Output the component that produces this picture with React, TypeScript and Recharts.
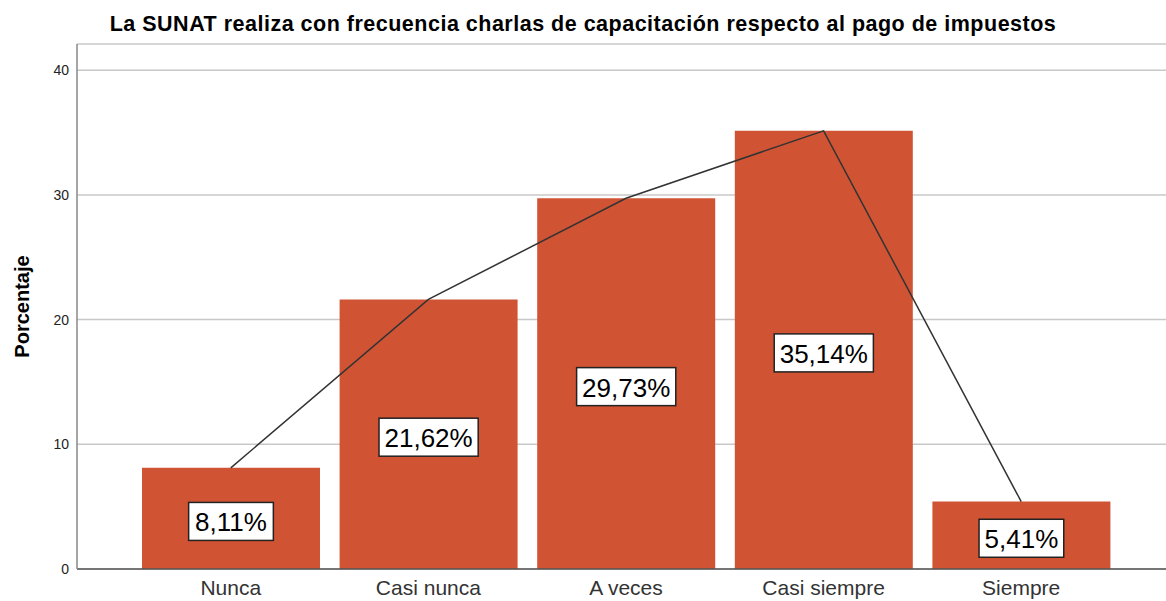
import * as React from "react";
import {
  Bar,
  CartesianGrid,
  ComposedChart,
  LabelList,
  Line,
  XAxis,
  YAxis,
} from "recharts";

const categories = ["Nunca", "Casi nunca", "A veces", "Casi siempre", "Siempre"];
const percentages = [8.11, 21.62, 29.73, 35.14, 5.41];
const yTicks = [0, 10, 20, 30, 40];

const TITLE = "La SUNAT realiza con frecuencia charlas de capacitación respecto al pago de impuestos";
const FONT = "'Liberation Sans', Arial, sans-serif";
const BAR_COLOR = "#D05434";

const data = categories.map((name, i) => ({ name, pct: percentages[i] }));

const fmt = (v: number) => v.toFixed(2).replace(".", ",") + "%";

// rough Arial widths, used to size the white label box
function textWidth(s: string, size: number) {
  let w = 0;
  for (const ch of s) {
    if (ch === ",") w += 0.278;
    else if (ch === "%") w += 0.889;
    else w += 0.556;
  }
  return w * size;
}

function BoxLabel(props: any) {
  const { x, y, width, height, value } = props;
  const text = fmt(Number(value));
  const size = 26;
  const w = textWidth(text, size) + 11;
  const h = 38;
  const cx = Number(x) + Number(width) / 2;
  const cy = Number(y) + Number(height) / 2 + 3;
  return (
    <g>
      <rect
        x={cx - w / 2}
        y={cy - h / 2}
        width={w}
        height={h}
        fill="#FFFFFF"
        stroke="#222"
        strokeWidth={1.5}
      />
      <text
        x={cx}
        y={cy + 1}
        textAnchor="middle"
        dominantBaseline="central"
        fontSize={size}
        fontFamily={FONT}
        fill="#000"
      >
        {text}
      </text>
    </g>
  );
}

function YLabel(props: any) {
  const vb = props.viewBox || {};
  const cx = 22;
  const cy = Number(vb.y) + Number(vb.height) / 2;
  return (
    <text
      x={cx}
      y={cy}
      transform={`rotate(-90 ${cx} ${cy})`}
      textAnchor="middle"
      dominantBaseline="central"
      fontSize={20}
      fontWeight="bold"
      fontFamily={FONT}
      fill="#000"
    >
      Porcentaje
    </text>
  );
}

export default function App() {
  return (
    <div
      style={{
        position: "absolute",
        left: 0,
        top: 0,
        width: 1166,
        height: 601,
        background: "#FFFFFF",
        fontFamily: FONT,
      }}
    >
      <div
        style={{
          position: "absolute",
          left: 0,
          top: 12,
          width: 1166,
          textAlign: "center",
          fontSize: 21.5,
          letterSpacing: 0.5,
          fontWeight: "bold",
          color: "#000",
        }}
      >
        {TITLE}
      </div>
      <ComposedChart
        width={1166}
        height={601}
        data={data}
        margin={{ top: 44, right: 0, bottom: 0, left: 0 }}
        barCategoryGap={10}
      >
        <CartesianGrid vertical={false} stroke="#C8C8C8" strokeWidth={1.5} />
        <XAxis
          dataKey="name"
          height={32}
          padding={{ left: 55, right: 46 }}
          tickLine={false}
          axisLine={{ stroke: "#555", strokeWidth: 1.5 }}
          tick={{ fill: "#333", fontSize: 21, fontFamily: FONT, dy: 3 }}
          interval={0}
        />
        <YAxis
          width={77}
          domain={[0, 42.1]}
          ticks={yTicks}
          tickLine={false}
          axisLine={{ stroke: "#888", strokeWidth: 1.5 }}
          tick={{ fill: "#222", fontSize: 14, fontFamily: FONT }}
          label={<YLabel />}
        />
        <Bar dataKey="pct" fill={BAR_COLOR} isAnimationActive={false}>
          <LabelList dataKey="pct" content={<BoxLabel />} />
        </Bar>
        <Line
          type="linear"
          dataKey="pct"
          stroke="#333"
          strokeWidth={1.5}
          dot={false}
          activeDot={false}
          isAnimationActive={false}
        />
      </ComposedChart>
    </div>
  );
}
